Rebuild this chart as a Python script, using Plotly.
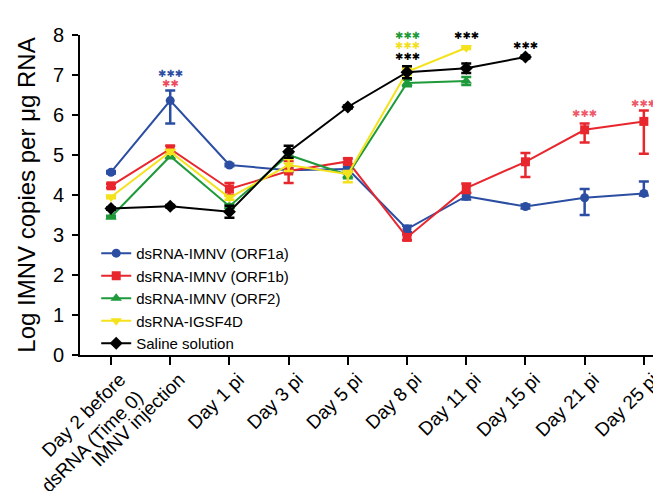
import plotly.graph_objects as go

categories = ["Day 2 before<br>dsRNA (Time 0)", "IMNV injection", "Day 1 pi", "Day 3 pi",
              "Day 5 pi", "Day 8 pi", "Day 11 pi", "Day 15 pi", "Day 21 pi", "Day 25 pi"]

orf1a = [4.57, 6.36, 4.75, 4.62, 4.65, 3.15, 3.97, 3.71, 3.93, 4.04]
orf1a_up = [0.03, 0.25, 0.03, 0.05, 0.05, 0.08, 0.08, 0.05, 0.22, 0.30]
orf1a_dn = [0.03, 0.57, 0.03, 0.05, 0.05, 0.08, 0.08, 0.05, 0.43, 0.05]

orf1b = [4.23, 5.15, 4.15, 4.60, 4.84, 2.94, 4.17, 4.83, 5.63, 5.84]
orf1b_up = [0.05, 0.08, 0.15, 0.25, 0.07, 0.07, 0.12, 0.22, 0.16, 0.27]
orf1b_dn = [0.05, 0.08, 0.15, 0.30, 0.07, 0.07, 0.12, 0.38, 0.32, 0.81]

orf2 = [3.45, 4.97, 3.72, 5.00, 4.50, 6.80, 6.85, None, None, None]
orf2_err = [0.03, 0.05, 0.05, 0.05, 0.08, 0.08, 0.10, None, None, None]

igsf4d = [3.95, 5.08, 3.93, 4.75, 4.52, 7.08, 7.68, None, None, None]
igsf4d_up = [0.03, 0.05, 0.05, 0.15, 0.08, 0.08, 0.03, None, None, None]
igsf4d_dn = [0.03, 0.05, 0.05, 0.15, 0.20, 0.08, 0.03, None, None, None]

saline = [3.66, 3.72, 3.58, 5.08, 6.20, 7.07, 7.17, 7.45, None, None]
saline_err = [0.03, 0.03, 0.15, 0.15, 0.04, 0.15, 0.12, 0.04, None, None]

series_names = ["dsRNA-IMNV (ORF1a)", "dsRNA-IMNV (ORF1b)", "dsRNA-IMNV (ORF2)",
                "dsRNA-IGSF4D", "Saline solution"]

# significance marks: (category, y, text, color)
sig_cats = ["IMNV injection", "IMNV injection", "Day 8 pi", "Day 8 pi", "Day 8 pi",
            "Day 11 pi", "Day 11 pi", "Day 11 pi", "Day 15 pi", "Day 21 pi", "Day 25 pi"]
sig_y = [7.05, 6.78, 7.98, 7.73, 7.47, 8.48, 8.23, 7.98, 7.73, 6.05, 6.30]
sig_text = ["✱✱✱", "✱✱", "✱✱✱", "✱✱✱", "✱✱✱", "✱✱✱", "✱✱✱", "✱✱✱", "✱✱✱", "✱✱✱", "✱✱✱"]
sig_color = ["#2e4fa3", "#ee4b5c", "#1f9a3a", "#f2df1f", "#000000",
             "#1f9a3a", "#f2df1f", "#000000", "#000000", "#ee5a6a", "#ee5a6a"]

BLUE = "#2b4ea2"
RED = "#e8262d"
GREEN = "#1f9a3a"
YELLOW = "#f4e21b"
BLACK = "#000000"

fig = go.Figure()

def add(y, up, dn, name, color, symbol, size=9):
    fig.add_trace(go.Scatter(
        x=categories, y=y, name=name, mode="lines+markers",
        line=dict(color=color, width=2),
        marker=dict(color=color, symbol=symbol, size=size),
        error_y=dict(type="data", symmetric=False, array=up, arrayminus=dn,
                     color=color, thickness=2.5, width=5),
        connectgaps=False, cliponaxis=False,
    ))

add(orf1a, orf1a_up, orf1a_dn, series_names[0], BLUE, "circle")
add(orf1b, orf1b_up, orf1b_dn, series_names[1], RED, "square")
add(orf2, orf2_err, orf2_err, series_names[2], GREEN, "triangle-up", 10)
add(igsf4d, igsf4d_up, igsf4d_dn, series_names[3], YELLOW, "triangle-down", 10)
add(saline, saline_err, saline_err, series_names[4], BLACK, "diamond", 10)

for c, yv, t, col in zip(sig_cats, sig_y, sig_text, sig_color):
    fig.add_annotation(x=c, y=yv, xref="x", yref="y", text=t, showarrow=False,
                       font=dict(family="DejaVu Sans", size=10, color=col),
                       yanchor="middle", borderpad=0)

# the page body adds an 8 px offset, so the figure is 8 px smaller on each side
fig.update_layout(
    width=653, height=483,
    margin=dict(l=72, r=2, t=27, b=136),
    paper_bgcolor="white", plot_bgcolor="white",
    font=dict(family="Liberation Sans, Arial, sans-serif", color="black"),
    showlegend=True,
    legend=dict(x=0.028, y=0.369, xanchor="left", yanchor="top",
                bgcolor="rgba(0,0,0,0)", font=dict(size=15), tracegroupgap=0,
                itemwidth=30),
)

fig.update_xaxes(
    type="category", categoryorder="array", categoryarray=categories,
    range=[-0.524, 9.256], showline=True, linecolor="black", linewidth=2,
    ticks="outside", ticklen=8, tickwidth=2, tickcolor="black",
    tickangle=-45, tickfont=dict(size=19), showgrid=False, zeroline=False,
    ticklabelshift=9, ticklabelstandoff=-4,
    automargin=False,
)
fig.update_yaxes(
    range=[0, 8], tickvals=[0, 1, 2, 3, 4, 5, 6, 7, 8],
    showline=True, linecolor="black", linewidth=2,
    ticks="outside", ticklen=6, tickwidth=2, tickcolor="black",
    tickfont=dict(size=20), showgrid=False, zeroline=False, ticklabelstandoff=4,
    title=dict(text="Log IMNV copies per μg RNA", font=dict(size=24), standoff=10),
    automargin=False,
)

fig.write_html("out.html")
